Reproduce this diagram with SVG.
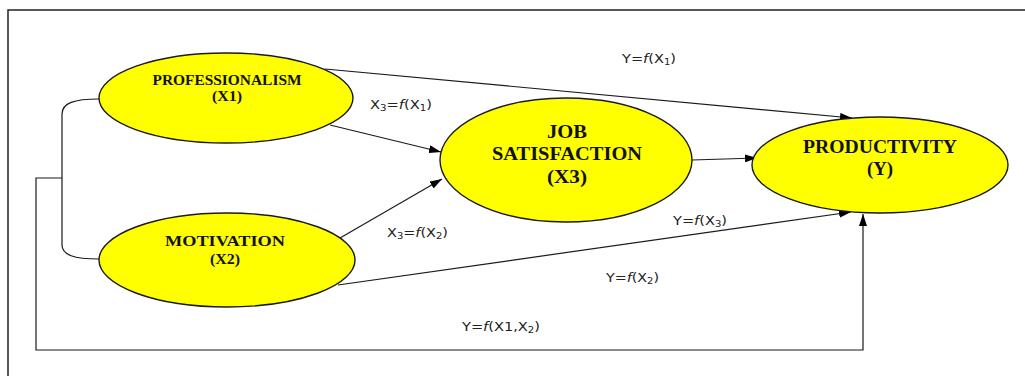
<svg xmlns="http://www.w3.org/2000/svg" width="1025" height="376" viewBox="0 0 1025 376">
<defs>
<marker id="arr" viewBox="0 0 12 8" refX="12" refY="4" markerWidth="12" markerHeight="8" markerUnits="userSpaceOnUse" orient="auto">
<path d="M0,0 L12,4 L0,8 z" fill="#000"/>
</marker>
<style>
.node{fill:#FFFF00;stroke:#1a1a1a;stroke-width:1.4}
.nt{font-family:"Liberation Serif","Times New Roman",serif;font-weight:bold;fill:#111;text-anchor:middle}
.lab{font-family:"DejaVu Sans","Liberation Sans",sans-serif;font-size:13px;fill:#222}
.sub{font-size:9px}
.c{fill:none;stroke:#1a1a1a;stroke-width:1.2}
</style>
</defs>
<rect width="1025" height="376" fill="#fff"/>
<path d="M8,376 L8,10 L1025,10" fill="none" stroke="#222" stroke-width="1.5"/>
<g id="connectors">
<path class="c" d="M99,99 C74,99 62,103 62,114 L62,245 C62,255 74,259 99,259"/>
<path class="c" d="M62,178 L36,178 L36,350 L863,350 L863,214" marker-end="url(#arr)"/>
<path class="c" d="M325,69 L852,118" marker-end="url(#arr)"/>
<path class="c" d="M330,125 L441,152" marker-end="url(#arr)"/>
<path class="c" d="M340,238 L442,179" marker-end="url(#arr)"/>
<path class="c" d="M692,160 L757,158" marker-end="url(#arr)"/>
<path class="c" d="M338,285 L851,212" marker-end="url(#arr)"/>
</g>
<g id="labels">
<text class="lab" x="622" y="63" textLength="54" lengthAdjust="spacingAndGlyphs">Y=<tspan font-style="italic">f</tspan>(X<tspan class="sub" dy="2">1</tspan><tspan dy="-2">)</tspan></text>
<text class="lab" x="370" y="109" textLength="62" lengthAdjust="spacingAndGlyphs">X<tspan class="sub" dy="2">3</tspan><tspan dy="-2">=</tspan><tspan font-style="italic">f</tspan>(X<tspan class="sub" dy="2">1</tspan><tspan dy="-2">)</tspan></text>
<text class="lab" x="387" y="237" textLength="61" lengthAdjust="spacingAndGlyphs">X<tspan class="sub" dy="2">3</tspan><tspan dy="-2">=</tspan><tspan font-style="italic">f</tspan>(X<tspan class="sub" dy="2">2</tspan><tspan dy="-2">)</tspan></text>
<text class="lab" x="673" y="225" textLength="54" lengthAdjust="spacingAndGlyphs">Y=<tspan font-style="italic">f</tspan>(X<tspan class="sub" dy="2">3</tspan><tspan dy="-2">)</tspan></text>
<text class="lab" x="606" y="282" textLength="53" lengthAdjust="spacingAndGlyphs">Y=<tspan font-style="italic">f</tspan>(X<tspan class="sub" dy="2">2</tspan><tspan dy="-2">)</tspan></text>
<text class="lab" x="462" y="331" textLength="78" lengthAdjust="spacingAndGlyphs">Y=<tspan font-style="italic">f</tspan>(X1,X<tspan class="sub" dy="2">2</tspan><tspan dy="-2">)</tspan></text>
</g>
<g id="professionalism">
<ellipse class="node" cx="226" cy="98" rx="127" ry="45"/>
<text class="nt" x="227" y="85" font-size="14" textLength="149" lengthAdjust="spacingAndGlyphs">PROFESSIONALISM</text>
<text class="nt" x="227" y="101" font-size="14" textLength="30" lengthAdjust="spacingAndGlyphs">(X1)</text>
</g>
<g id="motivation">
<ellipse class="node" cx="227" cy="260" rx="128" ry="47"/>
<text class="nt" x="225" y="246" font-size="14" textLength="120" lengthAdjust="spacingAndGlyphs">MOTIVATION</text>
<text class="nt" x="225" y="264" font-size="14" textLength="30" lengthAdjust="spacingAndGlyphs">(X2)</text>
</g>
<g id="job-satisfaction">
<ellipse class="node" cx="566" cy="160" rx="126" ry="62"/>
<text class="nt" x="567" y="138" font-size="18" textLength="40" lengthAdjust="spacingAndGlyphs">JOB</text>
<text class="nt" x="567" y="160" font-size="18" textLength="150" lengthAdjust="spacingAndGlyphs">SATISFACTION</text>
<text class="nt" x="567" y="183" font-size="18" textLength="40" lengthAdjust="spacingAndGlyphs">(X3)</text>
</g>
<g id="productivity">
<ellipse class="node" cx="880" cy="165" rx="128" ry="48"/>
<text class="nt" x="880" y="153" font-size="18" textLength="154" lengthAdjust="spacingAndGlyphs">PRODUCTIVITY</text>
<text class="nt" x="880" y="175" font-size="18" textLength="26" lengthAdjust="spacingAndGlyphs">(Y)</text>
</g>
</svg>
